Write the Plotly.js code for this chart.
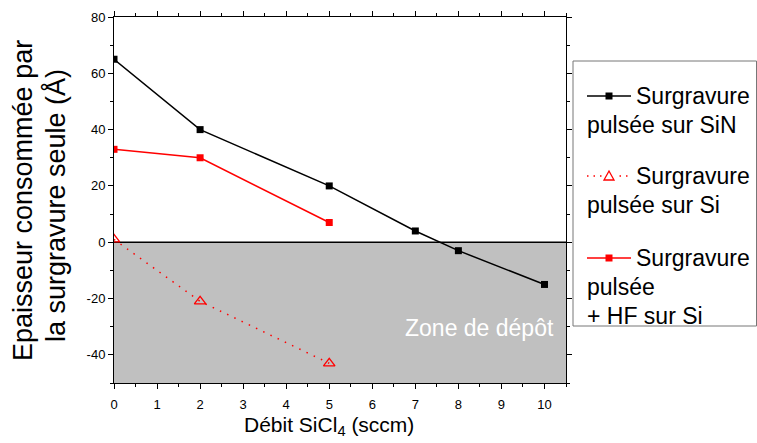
<!DOCTYPE html>
<html><head><meta charset="utf-8">
<script src="https://cdn.plot.ly/plotly-3.0.1.min.js"></script>
<style>html,body{margin:0;padding:0;background:#fff;}</style>
</head><body>
<div id="chart" style="width:757px;height:443px;"></div>
<script>
// ---- data ----
const xSiN = [0, 2, 5, 7, 8, 10];
const ySiN = [65, 40, 20, 4, -3, -15];
const xSi = [0, 2, 5];
const ySi = [1, -21, -43];
const xHF = [0, 2, 5];
const yHF = [33, 30, 7];
const zoneY = [-50, 0];
const xTicks = [0, 1, 2, 3, 4, 5, 6, 7, 8, 9, 10];
const yTicks = [-40, -20, 0, 20, 40, 60, 80];
const yTickText = ['-40', '-20', '0', '20', '40', '60', '80'];
const seriesNames = ['Surgravure pulsée sur SiN', 'Surgravure pulsée sur Si', 'Surgravure pulsée + HF sur Si'];
const legendLines = [
  ['Surgravure', 'pulsée sur SiN'],
  ['Surgravure', 'pulsée sur Si'],
  ['Surgravure', 'pulsée', '+ HF sur Si']
];
const xTitle = 'Débit SiCl<sub>4</sub> (sccm)';
const yTitleLines = ['Epaisseur consommée par', 'la surgravure seule (Å)'];

const FONT = 'Arial, "Liberation Sans", sans-serif';
const W = 757, H = 443, ML = 114, MR = 191, MT = 17, MB = 60;
const PW = W - ML - MR, PH = H - MT - MB;
const px = v => (v - ML) / PW;      // pixel x -> paper
const py = v => (H - MB - v) / PH;  // pixel y -> paper

const traces = [
  {x: xSiN, y: ySiN, name: seriesNames[0], mode: 'lines+markers',
   line: {color: '#000', width: 1.5}, marker: {symbol: 'square', size: 7, color: '#000'}},
  {x: xSi, y: ySi, name: seriesNames[1], mode: 'lines+markers',
   line: {color: '#ff0000', width: 1.5, dash: '1.5px,6.5px'},
   marker: {symbol: 'triangle-up-open', size: 10, color: '#ff0000', line: {width: 1.3}}},
  {x: xHF, y: yHF, name: seriesNames[2], mode: 'lines+markers',
   line: {color: '#ff0000', width: 1.5}, marker: {symbol: 'square', size: 7, color: '#ff0000'}}
];

// ---- custom legend (box, samples, text) ----
const legX0 = 573, legX1 = 756.5, legY0 = 61, legY1 = 326;
const entryY = [96, 176, 258];
const sampleX0 = 587, sampleX1 = 631, sampleXC = 609, textX = 636, lineGap = 29;
const legColors = ['#000', '#ff0000', '#ff0000'];
const legDash = ['solid', '1.5px,5px', 'solid'];

const shapes = [
  {type: 'rect', xref: 'paper', yref: 'y', x0: 0, x1: 1, y0: zoneY[0], y1: zoneY[1],
   fillcolor: '#c0c0c0', line: {width: 0}, layer: 'below'},
  {type: 'line', xref: 'paper', yref: 'y', x0: 0, x1: 1, y0: zoneY[1], y1: zoneY[1],
   line: {color: '#000', width: 1.5}, layer: 'below'},
  {type: 'rect', xref: 'paper', yref: 'paper', x0: px(legX0), x1: px(legX1), y0: py(legY1), y1: py(legY0),
   fillcolor: '#fff', line: {color: '#777', width: 1}}
];
const annotations = [
  {text: 'Zone de dépôt', xref: 'x', yref: 'y', x: 8.48, y: -30.3, showarrow: false,
   font: {size: 23, color: '#fff', family: FONT}},
  {text: xTitle, xref: 'x', yref: 'paper', x: 5, y: py(426), yanchor: 'middle', showarrow: false,
   font: {size: 21, color: '#000', family: FONT}},
  {text: yTitleLines[0], xref: 'paper', yref: 'paper', x: px(23), y: py(201), textangle: -90,
   xanchor: 'center', yanchor: 'middle', showarrow: false, font: {size: 27, color: '#000', family: FONT}},
  {text: yTitleLines[1], xref: 'paper', yref: 'paper', x: px(55), y: py(206), textangle: -90,
   xanchor: 'center', yanchor: 'middle', showarrow: false, font: {size: 27, color: '#000', family: FONT}}
];
entryY.forEach((ey, i) => {
  shapes.push({type: 'line', xref: 'paper', yref: 'paper', x0: px(sampleX0), x1: px(sampleX1), y0: py(ey), y1: py(ey),
    line: {color: legColors[i], width: 1.5, dash: legDash[i]}});
  if (i === 1) {
    shapes.push({type: 'rect', xref: 'paper', yref: 'paper', x0: px(sampleXC - 6), x1: px(sampleXC + 6), y0: py(ey + 6), y1: py(ey - 6),
      fillcolor: '#fff', line: {width: 0}});
    shapes.push({type: 'path', xref: 'paper', yref: 'paper',
      path: `M ${px(sampleXC - 5)} ${py(ey + 4)} L ${px(sampleXC + 5)} ${py(ey + 4)} L ${px(sampleXC)} ${py(ey - 5)} Z`,
      fillcolor: '#fff', line: {color: '#ff0000', width: 1.3}});
  } else {
    shapes.push({type: 'rect', xref: 'paper', yref: 'paper', x0: px(sampleXC - 3.5), x1: px(sampleXC + 3.5), y0: py(ey + 3.5), y1: py(ey - 3.5),
      fillcolor: legColors[i], line: {width: 0}});
  }
  legendLines[i].forEach((t, j) => {
    annotations.push({text: t, xref: 'paper', yref: 'paper', x: px(j === 0 ? textX : sampleX0), y: py(ey + j * lineGap),
      xanchor: 'left', yanchor: 'middle', showarrow: false, xshift: -2,
      font: {size: 23, color: '#000', family: FONT}});
  });
});

const axFont = {family: FONT, size: 13, color: '#000'};
const layout = {
  width: W, height: H,
  margin: {l: ML, r: MR, t: MT, b: MB},
  paper_bgcolor: '#fff', plot_bgcolor: '#fff',
  font: {family: FONT, color: '#000'},
  showlegend: false,
  xaxis: {range: [0, 10.5], tickvals: xTicks, ticks: 'outside', ticklen: 5, tickwidth: 1, tickcolor: '#000',
    showline: true, linecolor: '#000', linewidth: 1, mirror: 'ticks', showgrid: false, zeroline: false,
    tickfont: axFont, ticklabelstandoff: 4,
    minor: {dtick: 0.5, tick0: 0, ticks: 'outside', ticklen: 3, tickcolor: '#000'}},
  yaxis: {range: [-50, 80], tickvals: yTicks, ticktext: yTickText, ticks: 'outside', ticklen: 5, tickwidth: 1, tickcolor: '#000',
    showline: true, linecolor: '#000', linewidth: 1, mirror: 'ticks', showgrid: false, zeroline: false,
    tickfont: axFont,
    minor: {dtick: 10, tick0: 0, ticks: 'outside', ticklen: 3, tickcolor: '#000'}},
  shapes: shapes,
  annotations: annotations
};
Plotly.newPlot('chart', traces, layout, {displayModeBar: false, staticPlot: true});
</script>
</body></html>
